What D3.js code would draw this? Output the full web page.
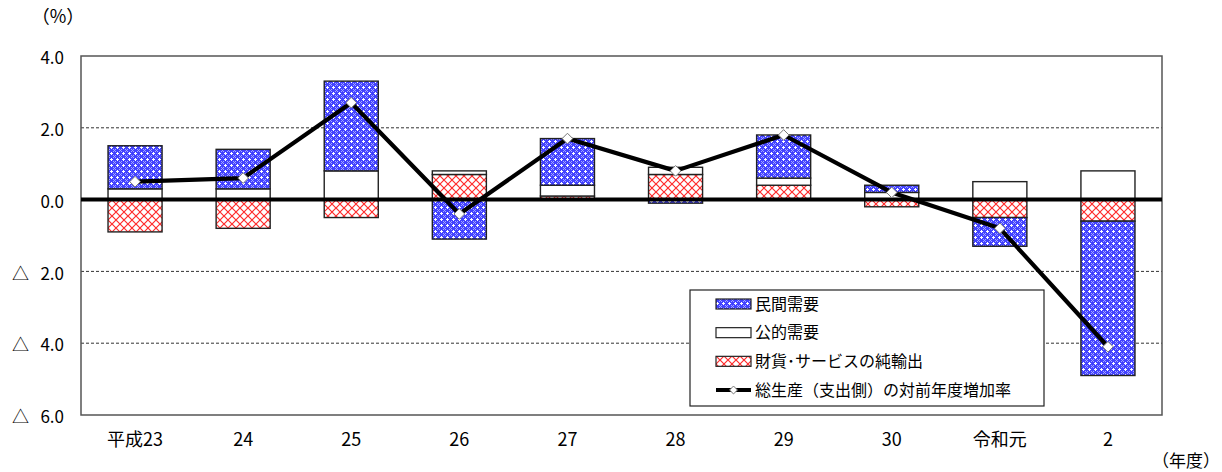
<!DOCTYPE html>
<html lang="ja">
<head>
<meta charset="utf-8">
<script src="https://cdn.jsdelivr.net/npm/d3@7"></script>
<style>
  html, body { margin: 0; padding: 0; background: #fff; }
  svg { display: block; }
  text { font-family: "Noto Sans CJK JP", "Noto Sans", sans-serif; fill: #000; }
</style>
</head>
<body>
<svg id="chart" width="1222" height="472"></svg>
<script>
// Fiscal years (平成23 … 令和2)
const years = ["平成23", "24", "25", "26", "27", "28", "29", "30", "令和元", "2"];

// Contributions to growth (percentage points)
const privateDemand = [1.2, 1.1, 2.5, -1.1, 1.3, -0.1, 1.2, 0.2, -0.8, -4.3];
const publicDemand  = [0.3, 0.3, 0.8, 0.1, 0.3, 0.2, 0.2, 0.2, 0.5, 0.8];
const netExports    = [-0.9, -0.8, -0.5, 0.7, 0.1, 0.7, 0.4, -0.2, -0.5, -0.6];

// Year-on-year growth of gross product (expenditure side, %)
const totalGrowth   = [0.5, 0.6, 2.7, -0.4, 1.7, 0.8, 1.8, 0.2, -0.8, -4.1];

// Y axis
const yTicks = [4, 2, 0, -2, -4, -6];
const gridValues = [2, -2, -4];

const seriesNames = {
  priv: "民間需要",
  pub: "公的需要",
  nx: "財貨･サービスの純輸出",
  total: "総生産（支出側）の対前年度増加率"
};

const svg = d3.select("#chart");
const plot = { left: 81, right: 1162, top: 56, bottom: 415 };

// Fill patterns
const defs = svg.append("defs");
const pBlue = defs.append("pattern")
  .attr("id", "blueHatch").attr("patternUnits", "userSpaceOnUse")
  .attr("width", 6).attr("height", 6);
pBlue.append("rect").attr("width", 6).attr("height", 6).attr("fill", "#4343ff");
[[3,2],[2,3],[3,3],[4,3],[3,4]].forEach(([px, py]) =>
  pBlue.append("rect").attr("x", px).attr("y", py).attr("width", 1).attr("height", 1).attr("fill", "#ffffff"));
[[0,0],[1,1],[5,5],[5,1],[1,5]].forEach(([px, py]) =>
  pBlue.append("rect").attr("x", px).attr("y", py).attr("width", 1).attr("height", 1).attr("fill", "#a8a8ff"));

const pRed = defs.append("pattern")
  .attr("id", "redHatch").attr("patternUnits", "userSpaceOnUse")
  .attr("width", 8).attr("height", 8);
pRed.append("rect").attr("width", 8).attr("height", 8).attr("fill", "#ffffff");
pRed.append("path").attr("d", "M0,0L8,8M8,0L0,8")
  .attr("stroke", "#ff2a2a").attr("stroke-width", 1.2);

const fills = { priv: "url(#blueHatch)", pub: "#ffffff", nx: "url(#redHatch)" };

// Scales
const x = d3.scaleBand().domain(years)
  .range([plot.left, plot.right]).paddingInner(0.5).paddingOuter(0.25);
const y = d3.scaleLinear().domain([-6, 4]).range([plot.bottom, plot.top]);

// Gridlines
svg.append("g").selectAll("line").data(gridValues).join("line")
  .attr("x1", plot.left).attr("x2", plot.right)
  .attr("y1", d => y(d)).attr("y2", d => y(d))
  .attr("stroke", "#333").attr("stroke-width", 1)
  .attr("stroke-dasharray", "3,2");

// Plot frame
svg.append("rect")
  .attr("x", plot.left).attr("y", plot.top)
  .attr("width", plot.right - plot.left).attr("height", plot.bottom - plot.top)
  .attr("fill", "none").attr("stroke", "#555").attr("stroke-width", 1.5);

// Stacked bars (positive and negative parts stacked separately)
const rows = years.map((yr, i) => ({
  year: yr, nx: netExports[i], pub: publicDemand[i], priv: privateDemand[i]
}));
const stack = d3.stack().keys(["nx", "pub", "priv"]).offset(d3.stackOffsetDiverging);
const layers = stack(rows);

svg.append("g").selectAll("g").data(layers).join("g")
  .attr("fill", d => fills[d.key])
  .selectAll("rect").data(d => d).join("rect")
  .attr("x", d => x(d.data.year))
  .attr("width", x.bandwidth())
  .attr("y", d => y(Math.max(d[0], d[1])))
  .attr("height", d => Math.abs(y(d[0]) - y(d[1])))
  .attr("stroke", "#222").attr("stroke-width", 1.4);

// Zero line
svg.append("line")
  .attr("x1", plot.left).attr("x2", plot.right)
  .attr("y1", y(0)).attr("y2", y(0))
  .attr("stroke", "#000").attr("stroke-width", 4);

// Growth line with diamond markers
const cx = d => x(d) + x.bandwidth() / 2;
const lineGen = d3.line().x((d, i) => cx(years[i])).y(d => y(d));
svg.append("path").datum(totalGrowth)
  .attr("d", lineGen).attr("fill", "none")
  .attr("stroke", "#000").attr("stroke-width", 4.2).attr("stroke-linejoin", "round");

const diamond = d3.symbol().type(d3.symbolDiamond2).size(72);
svg.append("g").selectAll("path").data(totalGrowth).join("path")
  .attr("transform", (d, i) => `translate(${cx(years[i])},${y(d)})`)
  .attr("d", diamond)
  .attr("fill", "#fff").attr("stroke", "#777").attr("stroke-width", 1);

// Y axis labels
const fmtY = v => v < 0 ? "△\u00a0\u00a0\u00a0" + d3.format(".1f")(-v) : d3.format(".1f")(v);
const yAxis = d3.axisLeft(y).tickValues(yTicks).tickFormat(fmtY).tickSize(0).tickPadding(17);
const gy = svg.append("g").attr("transform", `translate(${plot.left},0)`).call(yAxis);
gy.select(".domain").remove();
gy.selectAll("text")
  .attr("font-family", "'Noto Sans CJK JP', sans-serif")
  .attr("font-size", 17).attr("dy", "0.45em").attr("fill", "#000");

// X axis labels
const xAxis = d3.axisBottom(x).tickSize(0).tickPadding(0);
const gx = svg.append("g").attr("transform", `translate(0,${plot.bottom})`).call(xAxis);
gx.select(".domain").remove();
gx.selectAll("text")
  .attr("font-family", "'Noto Sans CJK JP', sans-serif")
  .attr("font-size", 18).attr("y", 25).attr("dy", "0.35em").attr("fill", "#000");

// Units
svg.append("text").attr("x", 58).attr("y", 17).attr("dy", "0.35em")
  .attr("text-anchor", "middle").attr("font-size", 18).text("（%）");
svg.append("text").attr("x", 1186).attr("y", 461).attr("dy", "0.35em")
  .attr("text-anchor", "middle").attr("font-size", 17).text("（年度）");

// Legend
const lg = svg.append("g");
lg.append("rect").attr("x", 690).attr("y", 290).attr("width", 354).attr("height", 116)
  .attr("fill", "#fff").attr("stroke", "#222").attr("stroke-width", 1.2);
const legendItems = [
  { key: "priv", label: seriesNames.priv },
  { key: "pub", label: seriesNames.pub },
  { key: "nx", label: seriesNames.nx },
  { key: "total", label: seriesNames.total }
];
const ly = d3.scalePoint().domain(legendItems.map(d => d.key)).range([304, 390]);
legendItems.forEach(it => {
  const cy = ly(it.key);
  if (it.key === "total") {
    lg.append("line").attr("x1", 716).attr("x2", 751).attr("y1", cy).attr("y2", cy)
      .attr("stroke", "#000").attr("stroke-width", 4);
    lg.append("path").attr("transform", `translate(733.5,${cy})`)
      .attr("d", d3.symbol().type(d3.symbolDiamond2).size(40))
      .attr("fill", "#fff").attr("stroke", "#777").attr("stroke-width", 1);
  } else {
    lg.append("rect").attr("x", 716).attr("y", cy - 5).attr("width", 35).attr("height", 10)
      .attr("fill", fills[it.key]).attr("stroke", "#222").attr("stroke-width", 1.2);
  }
  lg.append("text").attr("x", 755).attr("y", cy).attr("dy", "0.36em")
    .attr("font-size", 16).text(it.label);
});
</script>
</body>
</html>
